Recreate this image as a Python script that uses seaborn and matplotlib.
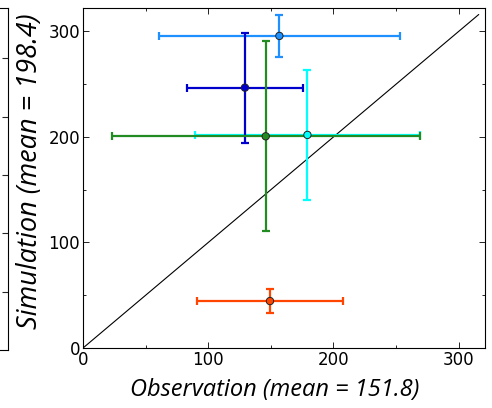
import numpy as np
import pandas as pd
import matplotlib
matplotlib.use("Agg")
import matplotlib.pyplot as plt
import seaborn as sns
from matplotlib.ticker import MultipleLocator

# Data
obs = [156.8, 129.3, 145.9, 179.2, 149.3]
sim = [295.7, 246.7, 200.6, 201.9, 44.5]
obs_err = [96.5, 46.0, 123.0, 89.6, 58.0]
sim_err = [19.5, 52.0, 90.0, 61.6, 11.4]
colors = ["#1E90FF", "#0000CD", "#228B22", "#00FFFF", "#FF4500"]
groups = ["a", "b", "c", "d", "e"]
draw_order = [0, 3, 1, 2, 4]
diag = [0, 316]
xlabel = "Observation (mean = 151.8)"
ylabel = "Simulation (mean = 198.4)"

sns.set_style("ticks")
plt.rcParams["font.family"] = ["DejaVu Sans"]
plt.rcParams["text.color"] = "black"
plt.rcParams["axes.labelcolor"] = "black"

df = pd.DataFrame({"obs": obs, "sim": sim, "group": groups})

fig = plt.figure(figsize=(4.92, 4.08), dpi=100)

# cropped neighbour panel at the left edge
axl = fig.add_axes([-0.5, 0.142, 0.5163, 0.838])
axl.set_xlim(0, 1)
axl.set_ylim(0, 5.86)
axl.set_yticks([1, 2, 3, 4, 5])
axl.set_xticks([])
axl.yaxis.tick_right()
axl.tick_params(axis="y", direction="in", length=4, width=0.8, labelright=False)
for s in axl.spines.values():
    s.set_linewidth(0.8)
    s.set_color("black")

ax = fig.add_axes([0.1687, 0.147, 0.8171, 0.833])

sns.lineplot(x=diag, y=diag, ax=ax, color="black", linewidth=0.8, zorder=1)

for z, i in enumerate(draw_order):
    ax.errorbar(obs[i], sim[i], xerr=obs_err[i], yerr=sim_err[i],
                fmt="none", ecolor=colors[i], elinewidth=1.6, capsize=3,
                capthick=1.6, zorder=2 + z)

sns.scatterplot(data=df, x="obs", y="sim", hue="group", palette=colors,
                ax=ax, s=28, edgecolor="#222222", linewidth=0.7,
                legend=False, zorder=10)

ax.set_xlim(0, 321)
ax.set_ylim(0, 322)
ax.xaxis.set_major_locator(MultipleLocator(100))
ax.yaxis.set_major_locator(MultipleLocator(100))
ax.xaxis.set_minor_locator(MultipleLocator(50))
ax.yaxis.set_minor_locator(MultipleLocator(50))
ax.tick_params(which="both", direction="in", top=True, right=True,
               width=0.6, colors="black", labelsize=12, pad=2)
ax.tick_params(which="major", length=4)
ax.tick_params(which="minor", length=2)
for s in ax.spines.values():
    s.set_linewidth(0.8)
    s.set_color("black")

ax.set_xlabel(xlabel, fontsize=17, fontstyle="italic", family="Open Sans",
              color="black")
ax.set_ylabel(ylabel, fontsize=19.5, fontstyle="italic", family="Open Sans",
              color="black")
ax.xaxis.set_label_coords(0.478, -0.088)
ax.yaxis.set_label_coords(-0.097, 0.52)

fig.savefig("out.png", dpi=100)
